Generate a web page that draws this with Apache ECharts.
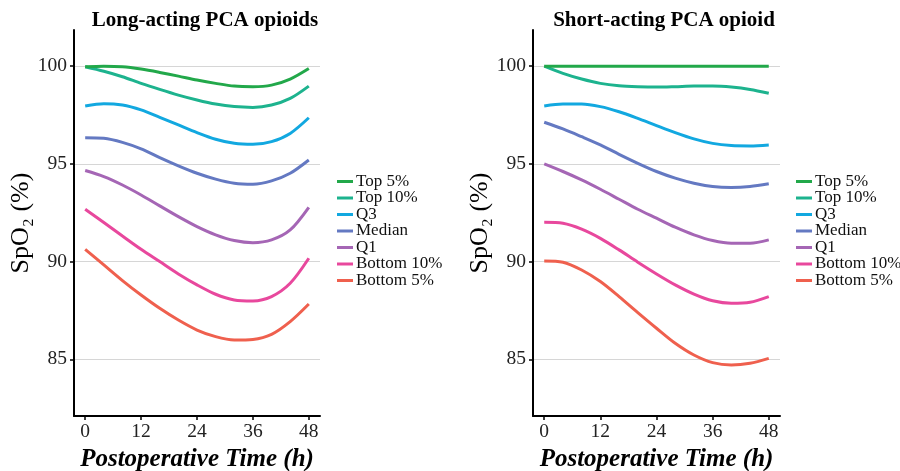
<!DOCTYPE html>
<html>
<head>
<meta charset="utf-8">
<title>SpO2 by PCA opioid</title>
<script src="https://cdn.jsdelivr.net/npm/echarts@6/dist/echarts.min.js"></script>
<style>
html, body { margin: 0; padding: 0; background: #fff; }
#chart { width: 900px; height: 471px; }
</style>
</head>
<body>
<div id="chart"></div>
<script>
var hours = [0, 4, 8, 12, 16, 20, 24, 28, 32, 36, 40, 44, 48];
var names = ['Top 5%', 'Top 10%', 'Q3', 'Median', 'Q1', 'Bottom 10%', 'Bottom 5%'];
var colors = ['#22a84a', '#1db38e', '#12a8e0', '#6479c2', '#a566b5', '#e8489d', '#ef604e'];
var xTicks = [0, 12, 24, 36, 48];
var yTicks = [85, 90, 95, 100];

// long-acting panel
var longTop5 = [99.97, 100.0, 99.97, 99.85, 99.68, 99.49, 99.29, 99.12, 98.98, 98.95, 99.03, 99.34, 99.88];
var longTop10 = [99.97, 99.74, 99.46, 99.12, 98.81, 98.52, 98.27, 98.06, 97.93, 97.89, 98.01, 98.35, 98.98];
var longQ3 = [97.96, 98.08, 98.01, 97.76, 97.38, 96.99, 96.6, 96.26, 96.05, 96.0, 96.14, 96.56, 97.36];
var longMedian = [96.34, 96.31, 96.1, 95.77, 95.32, 94.9, 94.52, 94.22, 94.01, 93.96, 94.13, 94.52, 95.2];
var longQ1 = [94.66, 94.35, 93.92, 93.41, 92.85, 92.3, 91.79, 91.37, 91.08, 90.97, 91.11, 91.62, 92.78];
var longBottom10 = [92.68, 92.0, 91.31, 90.63, 90.0, 89.37, 88.81, 88.33, 88.04, 87.99, 88.21, 88.89, 90.17];
var longBottom5 = [90.63, 89.83, 89.03, 88.29, 87.61, 87.01, 86.5, 86.16, 85.99, 86.02, 86.28, 86.93, 87.83];

// short-acting panel
var shortTop5 = [100, 100, 100, 100, 100, 100, 100, 100, 100, 100, 100, 100, 100];
var shortTop10 = [100.0, 99.63, 99.34, 99.12, 99.0, 98.95, 98.93, 98.95, 98.98, 98.98, 98.93, 98.81, 98.61];
var shortQ3 = [97.96, 98.06, 98.06, 97.93, 97.67, 97.33, 96.96, 96.6, 96.28, 96.05, 95.94, 95.92, 95.97];
var shortMedian = [97.13, 96.79, 96.39, 95.97, 95.49, 95.03, 94.61, 94.27, 94.01, 93.84, 93.79, 93.84, 93.98];
var shortQ1 = [95.0, 94.61, 94.18, 93.7, 93.19, 92.68, 92.22, 91.76, 91.37, 91.08, 90.94, 90.94, 91.11];
var shortBottom10 = [92.01, 91.96, 91.66, 91.19, 90.6, 89.97, 89.37, 88.81, 88.34, 88.0, 87.87, 87.92, 88.21];
var shortBottom5 = [90.03, 89.97, 89.57, 88.98, 88.21, 87.39, 86.59, 85.82, 85.22, 84.83, 84.71, 84.8, 85.05];

var longData = [longTop5, longTop10, longQ3, longMedian, longQ1, longBottom10, longBottom5];
var shortData = [shortTop5, shortTop10, shortQ3, shortMedian, shortQ1, shortBottom10, shortBottom5];

var serif = "'Liberation Serif', 'DejaVu Serif', serif";

function pairs(vals)
{
	var out = [];
	for (var i = 0; i < hours.length; ++i)
		out.push([hours[i], vals[i]]);
	return out;
}

function makeX(idx)
{
	return {
		type: 'value', gridIndex: idx, min: -2.4, max: 50.4,
		name: 'Postoperative Time (h)', nameLocation: 'middle', nameGap: 28,
		nameTextStyle: { fontFamily: serif, fontSize: 25, fontWeight: 'bold', fontStyle: 'italic', color: '#000' },
		axisLine: { onZero: false, lineStyle: { color: '#000', width: 2 } },
		axisTick: { show: true, length: 4, customValues: xTicks, lineStyle: { color: '#000', width: 1.5 } },
		axisLabel: { customValues: xTicks, fontFamily: serif, fontSize: 19.5, color: '#222', margin: 6 },
		splitLine: { show: false }
	};
}

function makeY(idx)
{
	return {
		type: 'value', gridIndex: idx, min: 82.1, max: 101.85,
		name: 'SpO₂ (%)', nameLocation: 'middle', nameGap: 37, nameRotate: 90,
		nameTextStyle: { fontFamily: serif, fontSize: 26, color: '#000' },
		axisLine: { show: true, onZero: false, lineStyle: { color: '#000', width: 2 } },
		axisTick: { show: true, length: 4, customValues: yTicks, lineStyle: { color: '#000', width: 1.5 } },
		axisLabel: { customValues: yTicks, fontFamily: serif, fontSize: 19.5, color: '#222', margin: 7 },
		splitLine: { show: true, lineStyle: { color: '#d6d6d6', width: 1 } }
	};
}

function makeLegend(left)
{
	return {
		orient: 'vertical', left: left, top: 173, padding: 0,
		data: names, icon: 'rect', itemWidth: 16, itemHeight: 3, itemGap: -0.5,
		textStyle: { fontFamily: serif, fontSize: 17, lineHeight: 16, color: '#111', padding: [0, 0, 0, -2] },
		selectedMode: false
	};
}

var series = [];
for (var p = 0; p < 2; ++p) {
	var set = p == 0 ? longData : shortData;
	for (var s = 0; s < names.length; ++s) {
		series.push({
			name: names[s], type: 'line', xAxisIndex: p, yAxisIndex: p,
			data: pairs(set[s]), smooth: 0.3, showSymbol: false, symbol: 'none',
			lineStyle: { width: 3, color: colors[s] }, itemStyle: { color: colors[s] },
			z: 10 - s
		});
	}
}

var my_chart = echarts.init(document.getElementById('chart'), null, { renderer: 'canvas' });

my_chart.setOption({
	animation: false,
	color: colors,
	title: [
		{ text: 'Long-acting PCA opioids', left: 200, top: 5, textAlign: 'center',
		  textStyle: { fontFamily: serif, fontSize: 21, fontWeight: 'bold', color: '#000' } },
		{ text: 'Short-acting PCA opioid', left: 659, top: 5, textAlign: 'center',
		  textStyle: { fontFamily: serif, fontSize: 21, fontWeight: 'bold', color: '#000' } }
	],
	legend: [makeLegend(337), makeLegend(796)],
	grid: [
		{ left: 74, top: 30, width: 246, height: 386, outerBoundsMode: 'none', containLabel: false },
		{ left: 533, top: 30, width: 247, height: 386, outerBoundsMode: 'none', containLabel: false }
	],
	xAxis: [makeX(0), makeX(1)],
	yAxis: [makeY(0), makeY(1)],
	series: series
});
</script>
</body>
</html>
